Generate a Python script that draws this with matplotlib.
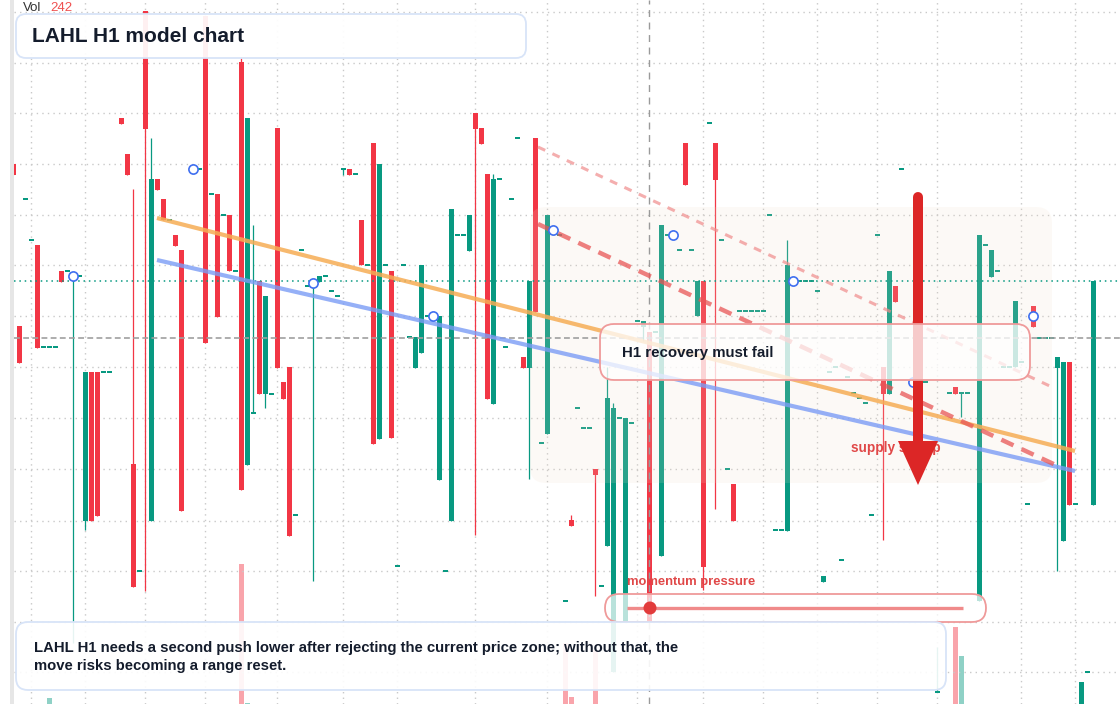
import matplotlib
matplotlib.use("Agg")
import matplotlib.pyplot as plt
import matplotlib.transforms as mtransforms
from matplotlib.patches import FancyBboxPatch, Rectangle, Polygon, Circle
import numpy as np

plt.rcParams["font.family"] = ["Liberation Sans", "DejaVu Sans"]

# ── Candle data (bar index, OHLC in chart price units) ───────────────────────
idx = [2, 3, 4, 5, 6, 7, 8, 9, 10, 11,
       12, 13, 14, 15, 16, 17, 18, 20, 21, 22,
       23, 24, 25, 26, 27, 28, 29, 30, 32, 33,
       34, 35, 36, 37, 38, 39, 40, 41, 42, 43,
       44, 45, 46, 47, 48, 49, 50, 51, 52, 53,
       54, 55, 56, 57, 58, 59, 60, 61, 62, 63,
       64, 65, 66, 67, 68, 69, 70, 71, 72, 73,
       74, 75, 76, 77, 78, 79, 80, 81, 82, 83,
       84, 85, 86, 87, 88, 89, 90, 91, 92, 93,
       94, 95, 96, 97, 98, 99, 100, 101, 102, 103,
       104, 105, 106, 107, 108, 109, 110, 111, 112, 113,
       114, 115, 116, 117, 118, 119, 120, 121, 122, 123,
       124, 125, 126, 127, 128, 129, 130, 131, 132, 133,
       134, 135, 136, 137, 138, 139, 140, 141, 142, 143,
       144, 145, 146, 147, 148, 149, 150, 152, 154, 156,
       158, 159, 160, 161, 163, 164, 165, 166, 167, 168,
       169, 170, 171, 172, 173, 174, 175, 176, 177, 178,
       179, 180, 181, 182]

opens = [54.0, 37.8, 50.5, 46.4, 45.9, 35.7, 35.7, 35.7, 43.3, 43.3,
         42.3, 42.8, 18.3, 33.2, 33.2, 33.2, 33.2, 58.6, 55.0, 24.0,
         13.3, 69.3, 18.3, 52.5, 50.5, 48.4, 46.9, 45.4, 53.5, 53.5,
         68.8, 51.0, 51.0, 48.9, 48.9, 43.3, 64.2, 23.9, 29.1, 42.3,
         31.0, 31.0, 57.6, 32.2, 33.7, 18.9, 45.4, 41.8, 41.9, 42.2,
         42.8, 41.3, 40.8, 53.5, 53.5, 53.0, 48.4, 43.9, 56.1, 26.5,
         43.9, 43.3, 13.8, 43.9, 36.7, 33.6, 35.1, 38.8, 38.8, 22.4,
         13.3, 18.3, 46.9, 46.9, 45.3, 59.1, 57.6, 53.0, 30.0, 52.5,
         35.7, 50.5, 56.6, 34.7, 33.6, 56.6, 26.1, 27.0, 47.4, 46.9,
         10.3, 18.4, 29.6, 27.6, 27.6, 23.5, 11.8, 15.8, 3.2, 28.6,
         8.2, 28.1, 38.3, 37.7, 37.2, 37.2, 14.8, 46.9, 46.9, 45.4,
         56.1, 45.4, 38.8, 42.3, 58.1, 56.1, 46.4, 23.5, 22.0, 39.3,
         39.3, 39.3, 39.3, 39.3, 48.9, 17.4, 17.4, 17.3, 42.3, 42.3,
         42.3, 42.3, 41.3, 12.2, 33.2, 33.7, 14.4, 32.7, 31.1, 30.6,
         30.1, 18.9, 46.9, 33.7, 31.0, 41.8, 53.5, 32.2, 32.2, 1.2,
         31.1, 31.7, 31.1, 31.1, 10.3, 45.9, 42.7, 43.3, 33.7, 33.7,
         33.7, 34.2, 20.0, 39.8, 36.6, 36.6, 36.6, 33.6, 16.3, 34.2,
         20.0, -1.1, 3.2, 19.9]

closes = [52.9, 34.1, 50.5, 46.4, 35.6, 35.7, 35.7, 35.7, 42.2, 43.3,
          42.5, 42.8, 33.2, 18.3, 18.8, 33.2, 33.2, 58.0, 52.9, 11.7,
          13.3, 57.5, 52.5, 51.4, 48.4, 48.4, 45.8, 19.3, 53.5, 53.5,
          36.1, 51.0, 38.7, 48.9, 43.3, 43.3, 21.4, 58.6, 29.3, 31.0,
          40.8, 31.0, 33.6, 30.5, 16.8, 18.9, 45.4, 41.8, 42.1, 42.8,
          42.8, 41.3, 40.8, 53.5, 52.9, 53.0, 43.9, 43.9, 26.0, 54.0,
          43.9, 26.6, 13.8, 43.9, 36.7, 36.7, 43.9, 38.8, 38.8, 38.8,
          13.3, 49.5, 46.9, 46.9, 48.9, 57.5, 56.0, 30.5, 52.5, 52.5,
          35.7, 50.5, 56.6, 33.6, 42.3, 39.2, 26.1, 48.9, 47.4, 46.9,
          10.3, 17.8, 29.6, 27.6, 27.6, 22.9, 11.8, 30.6, 29.6, 28.6,
          28.6, 28.1, 38.3, 38.3, 8.2, 37.2, 47.9, 46.9, 46.9, 45.4,
          51.9, 45.4, 42.3, 13.7, 58.1, 52.4, 46.4, 23.5, 18.3, 39.3,
          39.3, 39.3, 39.3, 39.3, 48.9, 17.4, 17.4, 43.9, 42.3, 42.3,
          42.3, 42.3, 41.3, 12.8, 33.2, 33.7, 14.4, 32.7, 31.1, 30.6,
          30.1, 18.9, 46.9, 31.0, 43.3, 40.2, 53.5, 32.2, 32.2, 1.2,
          31.1, 31.0, 31.1, 31.1, 46.9, 45.9, 45.4, 43.3, 33.7, 33.7,
          40.3, 34.2, 20.0, 37.7, 36.6, 36.6, 36.6, 34.7, 34.2, 19.9,
          20.0, 2.2, 3.2, 42.3]

highs = [54.0, 37.8, 50.5, 46.4, 45.9, 35.7, 35.7, 35.7, 43.3, 43.3,
         42.5, 42.8, 33.2, 33.2, 33.2, 33.2, 33.2, 58.6, 55.0, 51.5,
         13.3, 69.3, 56.6, 52.5, 50.5, 48.4, 46.9, 45.4, 53.5, 53.5,
         68.8, 51.0, 51.0, 48.9, 48.9, 43.3, 64.6, 58.6, 47.9, 42.3,
         40.8, 31.0, 57.6, 32.2, 33.7, 18.9, 45.4, 41.8, 42.1, 42.8,
         42.8, 41.3, 40.8, 53.5, 53.5, 53.0, 48.4, 43.9, 56.1, 54.0,
         43.9, 43.3, 13.8, 43.9, 36.7, 36.7, 43.9, 38.8, 38.8, 38.8,
         13.3, 49.5, 46.9, 46.9, 48.9, 59.1, 57.6, 53.0, 53.0, 52.5,
         35.7, 50.5, 56.6, 34.7, 42.3, 56.6, 26.1, 48.9, 47.4, 46.9,
         10.3, 18.9, 29.6, 27.6, 27.6, 23.5, 11.8, 33.7, 30.1, 28.6,
         28.6, 28.1, 38.3, 38.3, 37.2, 37.2, 47.9, 46.9, 46.9, 45.4,
         56.1, 45.4, 42.3, 42.3, 58.1, 56.1, 46.4, 23.5, 22.0, 39.3,
         39.3, 39.3, 39.3, 39.3, 48.9, 17.4, 17.4, 46.4, 42.3, 42.3,
         42.3, 42.3, 41.3, 12.8, 33.2, 33.7, 14.4, 32.7, 31.1, 30.6,
         30.1, 18.9, 46.9, 33.7, 43.3, 41.8, 53.5, 32.2, 32.2, 5.7,
         31.1, 31.7, 31.1, 31.1, 46.9, 45.9, 45.4, 43.3, 33.7, 33.7,
         40.3, 34.2, 20.0, 39.8, 36.6, 36.6, 36.6, 34.7, 34.2, 34.2,
         20.0, 2.2, 3.2, 42.3]

lows = [52.9, 34.1, 50.5, 46.4, 35.6, 35.7, 35.7, 35.7, 42.2, 43.3,
        6.1, 42.8, 17.4, 18.3, 18.8, 33.2, 33.2, 58.0, 52.9, 11.7,
        13.3, 11.3, 18.3, 51.4, 48.4, 48.4, 45.8, 19.3, 53.5, 53.5,
        36.1, 51.0, 38.7, 48.9, 43.3, 43.3, 21.4, 23.9, 29.1, 31.0,
        29.6, 31.0, 33.6, 30.5, 16.8, 18.9, 45.4, 41.8, 12.3, 42.2,
        42.8, 41.3, 40.8, 52.9, 52.9, 53.0, 43.9, 43.9, 26.0, 26.5,
        43.9, 26.6, 13.8, 43.9, 36.7, 33.6, 35.1, 38.8, 38.8, 22.4,
        13.3, 18.3, 46.9, 46.9, 45.3, 16.9, 56.0, 30.5, 30.0, 52.5,
        35.7, 50.5, 56.6, 33.6, 22.5, 39.2, 26.1, 27.0, 47.4, 46.9,
        10.3, 17.8, 29.6, 27.6, 27.6, 10.8, 11.8, 15.8, 3.2, 28.6,
        8.2, 28.1, 38.3, 36.3, 8.2, 37.2, 14.8, 46.9, 46.9, 45.4,
        51.9, 45.4, 38.8, 11.4, 58.1, 19.5, 46.4, 23.5, 18.3, 39.3,
        39.3, 39.3, 39.3, 39.3, 48.9, 17.4, 17.4, 17.3, 42.3, 42.3,
        42.3, 42.3, 41.3, 12.2, 33.2, 33.7, 14.4, 32.7, 31.1, 30.6,
        30.1, 18.9, 46.9, 16.4, 31.0, 40.2, 53.5, 32.2, 32.2, 1.2,
        31.1, 31.0, 28.7, 31.1, 10.3, 45.9, 42.7, 43.3, 33.7, 33.7,
        33.7, 34.2, 20.0, 37.7, 36.6, 36.6, 36.6, 13.3, 16.3, 19.9,
        20.0, -1.1, 3.2, 19.9]

# volume (only the bars that rise above the floor)
vol_idx = [8, 40, 41, 94, 95, 99, 159, 160]
vol_values = [30, 706, 5, 307, 35, 272, 388, 242]
vol_up = [True, False, True, False, False, False, False, True]

# hollow markers every 20 bars
marker_idx = [12, 32, 52, 72, 92, 112, 132, 152, 172]
marker_price = [42.8, 53.5, 42.1, 38.8, 47.4, 46.9, 42.3, 32.2, 38.8]

# trend lines: (start bar, start price, end bar, end price)
orange_line = [25.95, 48.6, 178.95, 25.3]
blue_line = [25.95, 44.4, 178.95, 23.3]
red_dash_line = [89.45, 48.0, 176.1, 23.8]
red_light_line = [89.45, 55.7, 175.1, 31.7]

last_close_level = 42.3
ref_level = 36.6
cursor_bar = 108

grid_bars = [5, 14, 24, 34, 46, 57, 66, 79, 91, 106, 117, 127, 136, 146, 156, 170, 179]
grid_prices = [69.23, 64.15, 59.1, 54.0, 48.9, 43.9, 38.8, 33.7, 28.6, 23.5, 18.3, 13.3, 8.2, 3.2]

UP, DOWN = "#089981", "#f23645"
INK = "#141c2c"

# ── Figure ───────────────────────────────────────────────────────────────────
W, H = 1120, 704
fig = plt.figure(figsize=(W / 100, H / 100), dpi=100, facecolor="white")
px = mtransforms.Affine2D().scale(0.01, -0.01).translate(0, H / 100) + fig.dpi_scale_trans

X0 = 14 / W                       # plot area starts right of the scale strip
XLIM = (2.117, 186.45)

axv = fig.add_axes([X0, 0, 1 - X0, 1])
axv.set_xlim(*XLIM)
axv.set_ylim(0, 3548)
axv.axis("off")

ax = fig.add_axes([X0, 0, 1 - X0, 1])
ax.patch.set_visible(False)
ax.set_xlim(*XLIM)
ax.set_ylim(0, 70.4)
ax.axis("off")

# grid
for g in grid_bars:
    axv.axvline(g, color="#c9c9c9", lw=1, ls=(0, (1, 3)), zorder=0)
for g in grid_prices:
    ax.axhline(g, color="#c9c9c9", lw=1, ls=(0, (1, 3)), zorder=0.5)

# volume
axv.bar(vol_idx, vol_values, width=0.8,
        color=[UP if u else DOWN for u in vol_up], alpha=0.45, zorder=1)

# candles
o = np.array(opens); c = np.array(closes)
hi = np.array(highs); lo = np.array(lows)
colors = [UP if cc >= oo else DOWN for oo, cc in zip(o, c)]
body_lo = np.minimum(o, c)
body_h = np.abs(c - o)
flat = body_h < 0.2
body_lo = np.where(flat, body_lo - 0.1, body_lo)
body_h = np.where(flat, 0.2, body_h)
ax.vlines(idx, lo, hi, colors=colors, lw=0.9, zorder=2)
ax.bar(idx, body_h, bottom=body_lo, width=0.8, color=colors, zorder=2.1)

# left price-scale edge
ax.add_patch(Rectangle((10, 0), 4, H, transform=px, fc="#e6e6e6", ec="none", zorder=2.2, clip_on=False))

# shaded zone
ax.add_patch(FancyBboxPatch((530, 207), 522, 276, boxstyle="round,pad=0,rounding_size=16",
                            transform=px, fc="#f0dcc8", ec="none", alpha=0.15, zorder=2.5, clip_on=False))

# reference lines
ax.axhline(last_close_level, color=UP, lw=1.1, ls=(0, (1, 2.5)), zorder=3)
ax.axhline(ref_level, color="#9f9f9f", lw=1.2, ls=(0, (3.5, 2)), zorder=3)
ax.axvline(cursor_bar, color="#9a9a9a", lw=1, ls=(0, (5, 4)), zorder=3)

# trend lines
for ln, col, lw, ls, al in [
    (orange_line, "#f6ad55", 3.0, "-", 0.85),
    (blue_line, "#7b9cf5", 3.0, "-", 0.8),
    (red_dash_line, "#e85656", 3.2, (0, (3, 2)), 0.75),
    (red_light_line, "#f08c8c", 2.2, (0, (2.6, 2.6)), 0.7),
]:
    ax.plot([ln[0], ln[2]], [ln[1], ln[3]], color=col, lw=lw, ls=ls, alpha=al,
            solid_capstyle="butt", zorder=4)

ax.scatter(marker_idx, marker_price, s=44, facecolors="white", edgecolors="#3f6ff0",
           linewidths=1.2, zorder=4.5)

# supply label + arrow
ax.text(851, 448, "supply sweep", transform=px, fontsize=9.8, fontweight="bold",
        color="#e04848", va="center", zorder=4.6)
ax.plot([918, 918], [197, 446], transform=px, color="#dc2626", lw=7.2,
        solid_capstyle="round", zorder=4.8)
ax.add_patch(Polygon([(898, 441), (938, 441), (918, 485)], closed=True, transform=px,
                     fc="#dc2626", ec="none", zorder=4.8))

# recovery box
ax.add_patch(FancyBboxPatch((600, 324), 430, 56, boxstyle="round,pad=0,rounding_size=14",
                            transform=px, fc=(1, 1, 1, 0.76), ec="#ef9a9a", lw=1.3,
                            zorder=5, clip_on=False))
ax.text(622, 353, "H1 recovery must fail", transform=px, fontsize=10.8,
        fontweight="bold", color=INK, va="center", zorder=5.1)

# momentum slider
ax.text(627, 582, "momentum pressure", transform=px, fontsize=9.4, fontweight="bold",
        color="#e04848", va="center", zorder=5)
ax.add_patch(FancyBboxPatch((605, 594), 381, 28, boxstyle="round,pad=0,rounding_size=14",
                            transform=px, fc=(1, 1, 1, 0.72), ec="#ef9a9a", lw=1.3,
                            zorder=5, clip_on=False))
ax.plot([627, 963], [608, 608], transform=px, color="#f08a8a", lw=2.4,
        solid_capstyle="butt", zorder=5.1)
ax.add_patch(Circle((650, 608), 6.5, transform=px, fc="#e23b3b", ec="none", zorder=5.2))

# title box
ax.add_patch(FancyBboxPatch((16, 14), 510, 44, boxstyle="round,pad=0,rounding_size=10",
                            transform=px, fc=(1, 1, 1, 0.93), ec="#d8e4f8", lw=1.3,
                            zorder=6, clip_on=False))
ax.text(32, 36, "LAHL H1 model chart", transform=px, fontsize=15, fontweight="bold",
        color=INK, va="center", zorder=6.1)
ax.text(23, 8, "Vol", transform=px, fontsize=9.5, color="#333333", va="center", zorder=6.1)
ax.text(50, 8, f"{vol_values[-1]}", transform=px, fontsize=9.5, color="#f05050",
        va="center", zorder=6.1)

# bottom note
ax.add_patch(FancyBboxPatch((16, 622), 930, 68, boxstyle="round,pad=0,rounding_size=12",
                            transform=px, fc=(1, 1, 1, 0.9), ec="#d8e4f8", lw=1.3,
                            zorder=6, clip_on=False))
ax.text(34, 657,
        "LAHL H1 needs a second push lower after rejecting the current price zone; without that, the\n"
        "move risks becoming a range reset.",
        transform=px, fontsize=10.7, fontweight="bold", color=INK, va="center",
        linespacing=1.35, zorder=6.1)

fig.savefig("out.png", dpi=100, facecolor="white")
